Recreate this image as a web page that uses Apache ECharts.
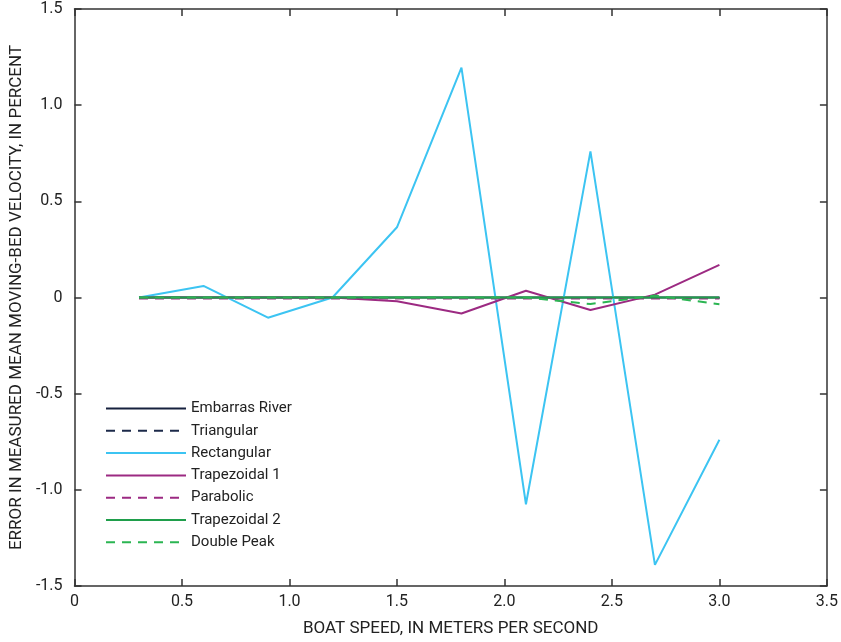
<!DOCTYPE html>
<html>
<head>
<meta charset="utf-8">
<script src="https://cdn.jsdelivr.net/npm/echarts@6/dist/echarts.min.js"></script>
<style>html,body{margin:0;padding:0;background:#fff}#c{width:841px;height:642px}</style>
</head>
<body>
<div id="c"></div>
<script>
var boatSpeed = [0.3, 0.6, 0.9, 1.2, 1.5, 1.8, 2.1, 2.4, 2.7, 3.0];
var embarrasRiver = [0, 0, 0, 0, 0, 0, 0, 0, 0, 0];
var triangular = [0, -0.003, -0.003, -0.003, -0.003, -0.003, -0.003, -0.003, -0.003, -0.003];
var rectangular = [0, 0.06, -0.105, 0, 0.365, 1.195, -1.075, 0.76, -1.39, -0.74];
var trapezoidal1 = [0, 0, 0, 0, -0.02, -0.083, 0.035, -0.065, 0.015, 0.17];
var parabolic = [-0.005, -0.005, -0.005, -0.005, -0.005, -0.005, -0.005, -0.005, -0.005, -0.005];
var trapezoidal2 = [0, 0, 0, 0, 0, 0, 0, 0, 0, 0];
var doublePeak = [0, 0, 0, 0, 0, 0, 0, -0.034, 0.01, -0.035];
var xTicks = [0, 0.5, 1.0, 1.5, 2.0, 2.5, 3.0, 3.5];
var yTicks = [-1.5, -1.0, -0.5, 0, 0.5, 1.0, 1.5];

var font = '"Roboto", "Liberation Sans", sans-serif';
function pairs(ys){ return boatSpeed.map(function(x,i){ return [x, ys[i]]; }); }
function fmt(v){ return v === 0 ? '0' : v.toFixed(1); }

var seriesDefs = [
  {name:'Embarras River', data:embarrasRiver, color:'#16213e', type:'solid'},
  {name:'Triangular', data:triangular, color:'#1c2a4a', type:'dashed'},
  {name:'Rectangular', data:rectangular, color:'#3cc4f2', type:'solid'},
  {name:'Trapezoidal 1', data:trapezoidal1, color:'#9c2a82', type:'solid'},
  {name:'Parabolic', data:parabolic, color:'#9c2a82', type:'dashed'},
  {name:'Trapezoidal 2', data:trapezoidal2, color:'#1f9e4b', type:'solid'},
  {name:'Double Peak', data:doublePeak, color:'#2bb552', type:'dashed'}
];

var axisLine = {show:true, onZero:false, lineStyle:{color:'#333', width:1.5}};
var tick = {show:true, inside:true, length:7, lineStyle:{color:'#333', width:1.5}};

var chart = echarts.init(document.getElementById('c'));
chart.setOption({
  animation:false,
  grid:{left:72, right:11, top:9, bottom:56, containLabel:false},
  legend:{
    orient:'vertical', left:100, top:396, itemWidth:80, itemHeight:14, itemGap:7.3,
    itemStyle:{opacity:0},
    textStyle:{fontFamily:font, fontSize:15, color:'#222'},
    data: seriesDefs.map(function(s){ return s.name; })
  },
  xAxis:[{
    type:'value', min:0, max:3.5, interval:0.5, position:'bottom',
    axisLine:axisLine, axisTick:tick, splitLine:{show:false},
    axisLabel:{fontFamily:font, fontSize:16, color:'#222', margin:8, formatter:fmt},
    name:'BOAT SPEED, IN METERS PER SECOND', nameLocation:'middle', nameGap:34,
    nameTextStyle:{fontFamily:font, fontSize:17, color:'#222'}
  },{
    type:'value', min:0, max:3.5, interval:0.5, position:'top',
    axisLine:axisLine, axisTick:tick, axisLabel:{show:false}, splitLine:{show:false}
  }],
  yAxis:[{
    type:'value', min:-1.5, max:1.5, interval:0.5, position:'left',
    axisLine:axisLine, axisTick:tick, splitLine:{show:false},
    axisLabel:{fontFamily:font, fontSize:16, color:'#222', margin:12, formatter:fmt},
    name:'ERROR IN MEASURED MEAN MOVING-BED VELOCITY, IN PERCENT', nameLocation:'middle', nameGap:46,
    nameTextStyle:{fontFamily:font, fontSize:17, color:'#222'}
  },{
    type:'value', min:-1.5, max:1.5, interval:0.5, position:'right',
    axisLine:axisLine, axisTick:tick, axisLabel:{show:false}, splitLine:{show:false}
  }],
  series: seriesDefs.map(function(s){
    return {
      name:s.name, type:'line', data:pairs(s.data), symbol:'none',
      color:s.color,
      lineStyle:{color:s.color, width:2, type:s.type === 'dashed' ? [9,7] : 'solid'}
    };
  })
});
</script>
</body>
</html>
